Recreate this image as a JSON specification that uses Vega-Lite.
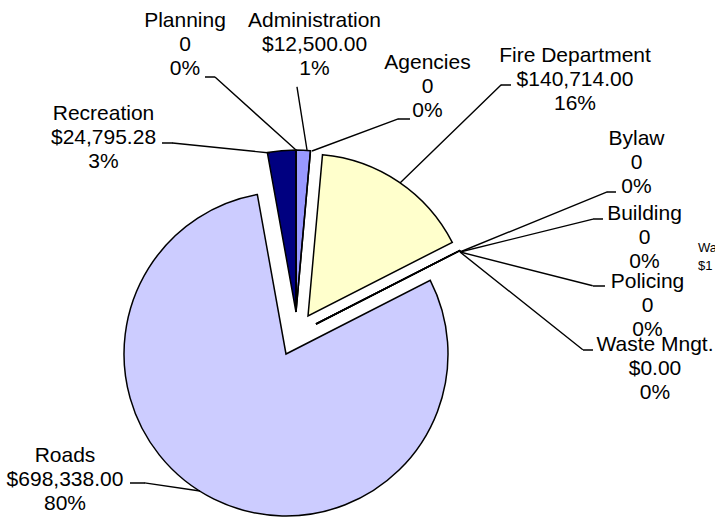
{
  "$schema": "https://vega.github.io/schema/vega-lite/v6.json",
  "width": 592,
  "height": 370,
  "autosize": "none",
  "padding": {"left": 0, "right": 123, "top": 149, "bottom": 0},
  "background": "white",
  "config": {"view": {"stroke": null}},
  "data": {"values": [
    {"idx": 1, "category": "Administration", "value": 12500, "label": "Administration\n$12,500.00\n1%"},
    {"idx": 2, "category": "Agencies", "value": 0, "label": "Agencies\n0\n0%"},
    {"idx": 3, "category": "Fire Department", "value": 140714, "label": "Fire Department\n$140,714.00\n16%"},
    {"idx": 4, "category": "Bylaw", "value": 0, "label": "Bylaw\n0\n0%"},
    {"idx": 5, "category": "Building", "value": 0, "label": "Building\n0\n0%"},
    {"idx": 6, "category": "Policing", "value": 0, "label": "Policing\n0\n0%"},
    {"idx": 7, "category": "Waste Mngt.", "value": 0, "label": "Waste Mngt.\n$0.00\n0%"},
    {"idx": 8, "category": "Roads", "value": 698338, "label": "Roads\n$698,338.00\n80%"},
    {"idx": 9, "category": "Recreation", "value": 24795.28, "label": "Recreation\n$24,795.28\n3%"},
    {"idx": 10, "category": "Planning", "value": 0, "label": "Planning\n0\n0%"}
  ]},
  "transform": [
    {"stack": "value", "groupby": [], "sort": [{"field": "idx", "order": "ascending"}], "as": ["v0", "v1"]}
  ],
  "layer": [
    {
      "transform": [{"filter": {"field": "category", "equal": "Roads"}}],
      "mark": {"type": "arc", "radius": 162, "stroke": "black", "strokeWidth": 1.5, "xOffset": -10, "yOffset": 20},
      "encoding": {
        "theta": {"field": "v0", "type": "quantitative", "stack": null, "scale": {"domain": [0, 876347.28]}},
        "theta2": {"field": "v1"},
        "color": {"field": "category", "type": "nominal", "legend": null,
          "scale": {"domain": ["Administration", "Agencies", "Fire Department", "Bylaw", "Building", "Policing", "Waste Mngt.", "Roads", "Recreation", "Planning"],
                    "range": ["#9999FF", "#993366", "#FFFFCC", "#CCFFFF", "#660066", "#FF8080", "#0066CC", "#CCCCFF", "#000080", "#FF00FF"]}}
      }
    },
    {
      "transform": [{"filter": {"field": "category", "equal": "Fire Department"}}],
      "mark": {"type": "arc", "radius": 162, "stroke": "black", "strokeWidth": 1.5, "xOffset": 12, "yOffset": -18},
      "encoding": {
        "theta": {"field": "v0", "type": "quantitative", "stack": null},
        "theta2": {"field": "v1"},
        "color": {"field": "category", "type": "nominal", "legend": null}
      }
    },
    {
      "transform": [{"filter": {"field": "category", "oneOf": ["Administration", "Agencies", "Recreation", "Planning"]}}],
      "mark": {"type": "arc", "radius": 162, "stroke": "black", "strokeWidth": 1.5, "xOffset": 0, "yOffset": -22},
      "encoding": {
        "theta": {"field": "v0", "type": "quantitative", "stack": null},
        "theta2": {"field": "v1"},
        "color": {"field": "category", "type": "nominal", "legend": null}
      }
    },
    {
      "transform": [{"filter": {"field": "category", "oneOf": ["Bylaw", "Building", "Policing", "Waste Mngt."]}}],
      "mark": {"type": "arc", "radius": 162, "stroke": "black", "strokeWidth": 1.5, "xOffset": 20, "yOffset": -10},
      "encoding": {
        "theta": {"field": "v0", "type": "quantitative", "stack": null},
        "theta2": {"field": "v1"},
        "color": {"field": "category", "type": "nominal", "legend": null}
      }
    },

    {"transform": [{"filter": {"field": "category", "equal": "Planning"}}],
     "mark": {"type": "arc", "theta": 5.445, "theta2": 5.445, "radius": 109, "radius2": 0, "xOffset": 0, "yOffset": -184, "fill": "transparent", "stroke": "black", "strokeWidth": 1.4}, "encoding": {}},
    {"transform": [{"filter": {"field": "category", "equal": "Administration"}}],
     "mark": {"type": "arc", "theta": 6.126, "theta2": 6.126, "radius": 64, "radius2": 0, "xOffset": 11, "yOffset": -184, "fill": "transparent", "stroke": "black", "strokeWidth": 1.4}, "encoding": {}},
    {"transform": [{"filter": {"field": "category", "equal": "Agencies"}}],
     "mark": {"type": "arc", "theta": 1.215, "theta2": 1.215, "radius": 92, "radius2": 0, "xOffset": 16, "yOffset": -183, "fill": "transparent", "stroke": "black", "strokeWidth": 1.4}, "encoding": {}},
    {"transform": [{"filter": {"field": "category", "equal": "Fire Department"}}],
     "mark": {"type": "arc", "theta": 0.801, "theta2": 0.801, "radius": 141, "radius2": 0, "xOffset": 104, "yOffset": -151, "fill": "transparent", "stroke": "black", "strokeWidth": 1.4}, "encoding": {}},
    {"transform": [{"filter": {"field": "category", "equal": "Bylaw"}}],
     "mark": {"type": "arc", "theta": 1.183, "theta2": 1.183, "radius": 159, "radius2": 0, "xOffset": 164, "yOffset": -82, "fill": "transparent", "stroke": "black", "strokeWidth": 1.4}, "encoding": {}},
    {"transform": [{"filter": {"field": "category", "equal": "Building"}}],
     "mark": {"type": "arc", "theta": 1.328, "theta2": 1.328, "radius": 137, "radius2": 0, "xOffset": 164, "yOffset": -82, "fill": "transparent", "stroke": "black", "strokeWidth": 1.4}, "encoding": {}},
    {"transform": [{"filter": {"field": "category", "equal": "Policing"}}],
     "mark": {"type": "arc", "theta": 1.820, "theta2": 1.820, "radius": 137, "radius2": 0, "xOffset": 164, "yOffset": -82, "fill": "transparent", "stroke": "black", "strokeWidth": 1.4}, "encoding": {}},
    {"transform": [{"filter": {"field": "category", "equal": "Waste Mngt."}}],
     "mark": {"type": "arc", "theta": 2.243, "theta2": 2.243, "radius": 157, "radius2": 0, "xOffset": 164, "yOffset": -82, "fill": "transparent", "stroke": "black", "strokeWidth": 1.4}, "encoding": {}},
    {"transform": [{"filter": {"field": "category", "equal": "Roads"}}],
     "mark": {"type": "arc", "theta": 4.857, "theta2": 4.857, "radius": 56, "radius2": 0, "xOffset": -96, "yOffset": 157, "fill": "transparent", "stroke": "black", "strokeWidth": 1.4}, "encoding": {}},
    {"transform": [{"filter": {"field": "category", "equal": "Recreation"}}],
     "mark": {"type": "arc", "theta": 4.815, "theta2": 4.815, "radius": 98, "radius2": 0, "xOffset": -26, "yOffset": -181, "fill": "transparent", "stroke": "black", "strokeWidth": 1.4}, "encoding": {}},

    {"transform": [{"filter": {"field": "category", "equal": "Planning"}}],
     "mark": {"type": "arc", "theta": 4.712, "theta2": 4.712, "radius": 10, "radius2": 0, "xOffset": -81, "yOffset": -257, "fill": "transparent", "stroke": "black", "strokeWidth": 1.4}, "encoding": {}},
    {"transform": [{"filter": {"field": "category", "equal": "Agencies"}}],
     "mark": {"type": "arc", "theta": 1.571, "theta2": 1.571, "radius": 12, "radius2": 0, "xOffset": 102, "yOffset": -215, "fill": "transparent", "stroke": "black", "strokeWidth": 1.4}, "encoding": {}},
    {"transform": [{"filter": {"field": "category", "equal": "Fire Department"}}],
     "mark": {"type": "arc", "theta": 1.571, "theta2": 1.571, "radius": 10, "radius2": 0, "xOffset": 205, "yOffset": -249, "fill": "transparent", "stroke": "black", "strokeWidth": 1.4}, "encoding": {}},
    {"transform": [{"filter": {"field": "category", "equal": "Bylaw"}}],
     "mark": {"type": "arc", "theta": 1.571, "theta2": 1.571, "radius": 9, "radius2": 0, "xOffset": 311, "yOffset": -142, "fill": "transparent", "stroke": "black", "strokeWidth": 1.4}, "encoding": {}},
    {"transform": [{"filter": {"field": "category", "equal": "Building"}}],
     "mark": {"type": "arc", "theta": 1.571, "theta2": 1.571, "radius": 10, "radius2": 0, "xOffset": 297, "yOffset": -115, "fill": "transparent", "stroke": "black", "strokeWidth": 1.4}, "encoding": {}},
    {"transform": [{"filter": {"field": "category", "equal": "Policing"}}],
     "mark": {"type": "arc", "theta": 1.571, "theta2": 1.571, "radius": 12, "radius2": 0, "xOffset": 297, "yOffset": -48, "fill": "transparent", "stroke": "black", "strokeWidth": 1.4}, "encoding": {}},
    {"transform": [{"filter": {"field": "category", "equal": "Waste Mngt."}}],
     "mark": {"type": "arc", "theta": 1.571, "theta2": 1.571, "radius": 10, "radius2": 0, "xOffset": 287, "yOffset": 16, "fill": "transparent", "stroke": "black", "strokeWidth": 1.4}, "encoding": {}},
    {"transform": [{"filter": {"field": "category", "equal": "Roads"}}],
     "mark": {"type": "arc", "theta": 4.712, "theta2": 4.712, "radius": 15, "radius2": 0, "xOffset": -151, "yOffset": 149, "fill": "transparent", "stroke": "black", "strokeWidth": 1.4}, "encoding": {}},
    {"transform": [{"filter": {"field": "category", "equal": "Recreation"}}],
     "mark": {"type": "arc", "theta": 4.712, "theta2": 4.712, "radius": 11, "radius2": 0, "xOffset": -123, "yOffset": -191, "fill": "transparent", "stroke": "black", "strokeWidth": 1.4}, "encoding": {}},

    {"transform": [{"filter": {"field": "category", "equal": "Planning"}}],
     "mark": {"type": "text", "font": "Liberation Sans", "fontSize": 21, "lineHeight": 24, "lineBreak": "\n", "align": "center", "baseline": "top", "color": "black", "dx": -111, "dy": -324},
     "encoding": {"text": {"field": "label", "type": "nominal"}}},
    {"transform": [{"filter": {"field": "category", "equal": "Administration"}}],
     "mark": {"type": "text", "font": "Liberation Sans", "fontSize": 21, "lineHeight": 24, "lineBreak": "\n", "align": "center", "baseline": "top", "color": "black", "dx": 18.5, "dy": -324},
     "encoding": {"text": {"field": "label", "type": "nominal"}}},
    {"transform": [{"filter": {"field": "category", "equal": "Agencies"}}],
     "mark": {"type": "text", "font": "Liberation Sans", "fontSize": 21, "lineHeight": 24, "lineBreak": "\n", "align": "center", "baseline": "top", "color": "black", "dx": 131.5, "dy": -282},
     "encoding": {"text": {"field": "label", "type": "nominal"}}},
    {"transform": [{"filter": {"field": "category", "equal": "Fire Department"}}],
     "mark": {"type": "text", "font": "Liberation Sans", "fontSize": 21, "lineHeight": 24, "lineBreak": "\n", "align": "center", "baseline": "top", "color": "black", "dx": 279, "dy": -289},
     "encoding": {"text": {"field": "label", "type": "nominal"}}},
    {"transform": [{"filter": {"field": "category", "equal": "Bylaw"}}],
     "mark": {"type": "text", "font": "Liberation Sans", "fontSize": 21, "lineHeight": 24, "lineBreak": "\n", "align": "center", "baseline": "top", "color": "black", "dx": 340.5, "dy": -206},
     "encoding": {"text": {"field": "label", "type": "nominal"}}},
    {"transform": [{"filter": {"field": "category", "equal": "Building"}}],
     "mark": {"type": "text", "font": "Liberation Sans", "fontSize": 21, "lineHeight": 24, "lineBreak": "\n", "align": "center", "baseline": "top", "color": "black", "dx": 348.5, "dy": -131},
     "encoding": {"text": {"field": "label", "type": "nominal"}}},
    {"transform": [{"filter": {"field": "category", "equal": "Policing"}}],
     "mark": {"type": "text", "font": "Liberation Sans", "fontSize": 21, "lineHeight": 24, "lineBreak": "\n", "align": "center", "baseline": "top", "color": "black", "dx": 351.5, "dy": -63},
     "encoding": {"text": {"field": "label", "type": "nominal"}}},
    {"transform": [{"filter": {"field": "category", "equal": "Waste Mngt."}}],
     "mark": {"type": "text", "font": "Liberation Sans", "fontSize": 21, "lineHeight": 24, "lineBreak": "\n", "align": "center", "baseline": "top", "color": "black", "dx": 359, "dy": 0},
     "encoding": {"text": {"field": "label", "type": "nominal"}}},
    {"transform": [{"filter": {"field": "category", "equal": "Roads"}}],
     "mark": {"type": "text", "font": "Liberation Sans", "fontSize": 21, "lineHeight": 24, "lineBreak": "\n", "align": "center", "baseline": "top", "color": "black", "dx": -231, "dy": 111},
     "encoding": {"text": {"field": "label", "type": "nominal"}}},
    {"transform": [{"filter": {"field": "category", "equal": "Recreation"}}],
     "mark": {"type": "text", "font": "Liberation Sans", "fontSize": 21, "lineHeight": 24, "lineBreak": "\n", "align": "center", "baseline": "top", "color": "black", "dx": -192.5, "dy": -231},
     "encoding": {"text": {"field": "label", "type": "nominal"}}},
    {"data": {"values": [{"label": "Wa\n$1"}]},
     "mark": {"type": "text", "font": "Liberation Sans", "fontSize": 13, "lineHeight": 18, "lineBreak": "\n", "align": "left", "baseline": "top", "color": "black", "dx": 402, "dy": -92},
     "encoding": {"text": {"field": "label", "type": "nominal"}}}
  ]
}
